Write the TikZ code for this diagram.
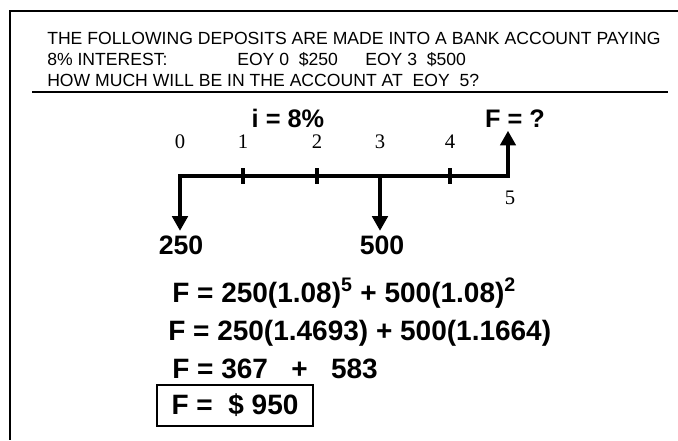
\documentclass[tikz,border=0pt]{standalone}
\usepackage{fontspec}
\setmainfont{Liberation Sans}
\newfontfamily\timesfont{Liberation Serif}
\usetikzlibrary{arrows.meta,positioning,calc}

\begin{document}
\begin{tikzpicture}[
    x=0.75pt, y=-0.75pt,
    header/.style={anchor=base west, inner sep=0pt, font=\fontsize{13.2}{15}\selectfont},
    period/.style={inner sep=0pt, font=\timesfont\fontsize{15.5}{18}\selectfont},
    label/.style={inner sep=1pt, font=\bfseries\fontsize{19}{22}\selectfont},
    amount/.style={font=\bfseries\fontsize{20}{24}\selectfont},
    eqn/.style={anchor=base west, inner sep=0pt, font=\bfseries\fontsize{21}{25}\selectfont},
    answerbox/.style={draw, line width=1.5pt, minimum width=117pt, minimum height=31pt, inner sep=0pt, font=\bfseries\fontsize{21}{25}\selectfont},
    timeline/.style={line width=3.4pt, line cap=rect},
    tickmark/.style={line width=3pt},
    flow/.style={-{Triangle[length=11pt,width=11.5pt]}, line width=3.4pt}
]
\useasboundingbox (0,0) rectangle (678,440);

% Frame
\draw[line width=1.5pt] (678,11) -- (10,11) -- (10,440);

% Problem statement
\node[header] (line1) at (47,44.5) {THE FOLLOWING DEPOSITS ARE MADE INTO A BANK ACCOUNT PAYING};
\node[header] (line2) at (47,65.5) {8\% INTEREST:};
\node[header] (dep0) at (237,65.5) {EOY 0\ \ \$250};
\node[header] (dep3) at (365,65.5) {EOY 3\ \ \$500};
\node[header] (line3) at (47,86.5) {HOW MUCH WILL BE IN THE ACCOUNT AT\ \ EOY\ \ 5?};
\draw[line width=1pt] (32,92) -- (668,92);

% Cash flow diagram
\coordinate (t0) at (180,176);
\coordinate (t1) at (243,176);
\coordinate (t2) at (317,176);
\coordinate (t3) at (380,176);
\coordinate (t4) at (450,176);
\coordinate (t5) at (508,176);
\draw[timeline] (t0) -- (t5);
\foreach \t in {t1,t2,t4}
    \draw[tickmark] ($(\t)+(0,-8)$) -- ($(\t)+(0,8)$);

\foreach \i/\x in {0/180,1/243,2/317,3/380,4/450}
    \node[period] (n\i) at (\x,142) {\i};
\node[period] (n5) at (510,198) {5};

\node[label] (rate) at (288,118) {i = 8\%};
\node[label, inner sep=2pt] (fq) at (515,119) {F = ?};
\node[amount] (p250) at (181,245) {250};
\node[amount] (p500) at (382,245) {500};

% Arrows
\draw[flow] (t0) -- (t0 |- p250.north);
\draw[flow] (t3) -- (t3 |- p500.north);
\draw[flow] (t5) -- (t5 |- fq.south);

% Solution
\node[eqn] (eq1) at (172,302) {F = 250(1.08)\textsuperscript{5} + 500(1.08)\textsuperscript{2}};
\node[eqn] (eq2) at (168,340) {F = 250(1.4693) + 500(1.1664)};
\node[eqn] (eq3) at (172,378) {F = 367\ \ \ +\ \ \ 583};
\node[answerbox] (eq4) at (235,405.5) {F =\ \ \$ 950};

\end{tikzpicture}
\end{document}
